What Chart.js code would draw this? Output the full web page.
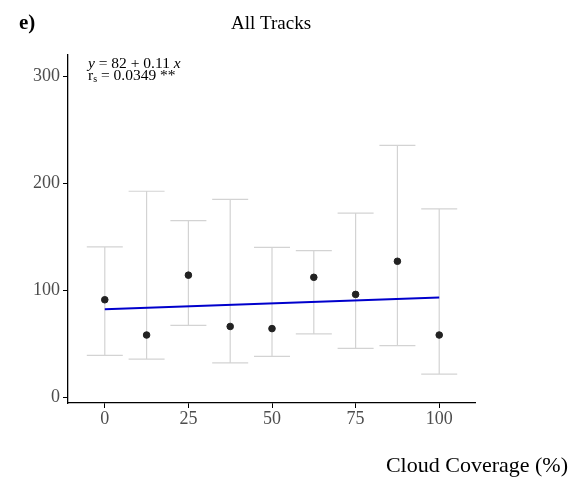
<!DOCTYPE html>
<html>
<head>
<meta charset="utf-8">
<script src="https://cdn.jsdelivr.net/npm/chart.js@4/dist/chart.umd.min.js"></script>
<style>
  html, body { margin: 0; padding: 0; background: #fff; }
  #wrap { width: 570px; height: 480px; }
</style>
</head>
<body>
<div id="wrap"><canvas id="grafico" width="570" height="480"></canvas></div>
<script>
const cobertura = [0, 12.5, 25, 37.5, 50, 62.5, 75, 87.5, 100];
const media = [91, 58, 114, 66, 64, 112, 96, 127, 58];
const limiteSuperior = [140.5, 192.5, 165, 185, 140, 137, 172, 235.5, 176];
const limiteInferior = [39, 35.5, 67, 32, 38, 59, 45.5, 48, 21.5];

const retaX = [0, 100];
const retaY = [82, 93];

const ticksX = [0, 25, 50, 75, 100];
const ticksY = [0, 100, 200, 300];

const fonteSerif = "'Liberation Serif', 'DejaVu Serif', serif";

const pluginBarrasErro = {
  id: "barrasErro",
  beforeDatasetsDraw(chart) {
    const { ctx, scales } = chart;
    const meia = 18;
    ctx.save();
    ctx.strokeStyle = "#d3d3d3";
    ctx.lineWidth = 1.2;
    cobertura.forEach((x, i) => {
      const px = scales.x.getPixelForValue(x);
      const topo = scales.y.getPixelForValue(limiteSuperior[i]);
      const base = scales.y.getPixelForValue(limiteInferior[i]);
      ctx.beginPath();
      ctx.moveTo(px, topo);
      ctx.lineTo(px, base);
      ctx.moveTo(px - meia, topo);
      ctx.lineTo(px + meia, topo);
      ctx.moveTo(px - meia, base);
      ctx.lineTo(px + meia, base);
      ctx.stroke();
    });
    ctx.restore();
  }
};

const pluginTextos = {
  id: "textos",
  afterDraw(chart) {
    const { ctx } = chart;
    ctx.save();
    ctx.fillStyle = "#000";
    ctx.textBaseline = "middle";

    ctx.font = "bold 21px " + fonteSerif;
    ctx.textAlign = "left";
    ctx.fillText("e)", 19, 24);

    ctx.font = "19px " + fonteSerif;
    ctx.textAlign = "center";
    ctx.fillText("All Tracks", 271, 24);

    ctx.font = "22px " + fonteSerif;
    ctx.textAlign = "right";
    ctx.fillText("Cloud Coverage (%)", 568, 466);

    // anotação da regressão
    ctx.textAlign = "left";
    let x = 88;
    ctx.font = "italic 15.5px " + fonteSerif;
    ctx.fillText("y", x, 64);
    x += ctx.measureText("y").width;
    ctx.font = "15.5px " + fonteSerif;
    ctx.fillText(" = 82 + 0.11 ", x, 64);
    x += ctx.measureText(" = 82 + 0.11 ").width;
    ctx.font = "italic 15.5px " + fonteSerif;
    ctx.fillText("x", x, 64);

    x = 88;
    ctx.font = "15.5px " + fonteSerif;
    ctx.fillText("r", x, 75.5);
    x += ctx.measureText("r").width;
    ctx.font = "10px " + fonteSerif;
    ctx.fillText("s", x, 79);
    x += ctx.measureText("s").width;
    ctx.font = "15.5px " + fonteSerif;
    ctx.fillText(" = 0.0349 **", x, 75.5);
    ctx.restore();
  }
};

new Chart(document.getElementById("grafico"), {
  type: "scatter",
  data: {
    datasets: [
      {
        type: "line",
        data: retaX.map((x, i) => ({ x, y: retaY[i] })),
        borderColor: "#0000cc",
        borderWidth: 2,
        pointRadius: 0,
        fill: false
      },
      {
        data: cobertura.map((x, i) => ({ x, y: media[i] })),
        backgroundColor: "#222",
        borderColor: "#222",
        pointRadius: 3.3
      }
    ]
  },
  options: {
    responsive: false,
    animation: false,
    layout: {
      padding: { top: 55, right: 95, bottom: 47, left: 0 }
    },
    plugins: {
      legend: { display: false },
      tooltip: { enabled: false }
    },
    scales: {
      x: {
        type: "linear",
        min: -11,
        max: 110.7,
        afterBuildTicks: scale => { scale.ticks = ticksX.map(v => ({ value: v })); },
        afterFit: scale => { scale.height = 30; },
        grid: { drawOnChartArea: false, drawTicks: true, tickLength: 5, color: "#000" },
        border: { display: true, color: "#000", width: 1.3 },
        ticks: {
          padding: 0,
          color: "#4d4d4d",
          font: { family: fonteSerif, size: 18 },
          maxRotation: 0
        }
      },
      y: {
        type: "linear",
        min: -5.6,
        max: 320,
        afterBuildTicks: scale => { scale.ticks = ticksY.map(v => ({ value: v })); },
        afterFit: scale => { scale.width = 68; },
        grid: { drawOnChartArea: false, drawTicks: true, tickLength: 5, color: "#000" },
        border: { display: true, color: "#000", width: 1.3 },
        ticks: {
          padding: 3,
          color: "#4d4d4d",
          font: { family: fonteSerif, size: 18 }
        }
      }
    }
  },
  plugins: [pluginBarrasErro, pluginTextos]
});
</script>
</body>
</html>
